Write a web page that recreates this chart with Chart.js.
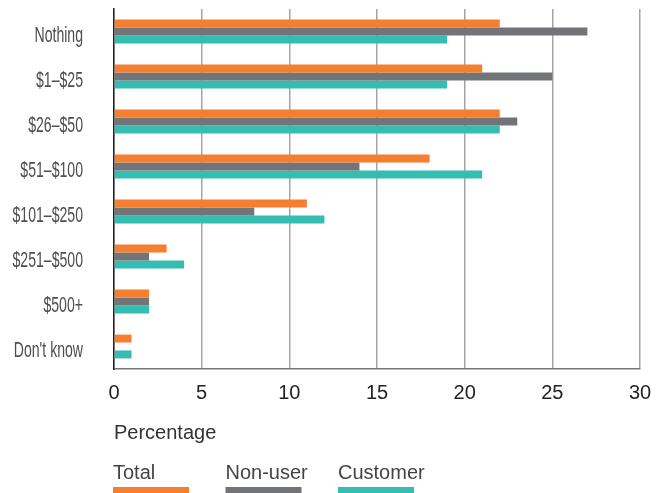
<!DOCTYPE html>
<html>
<head>
<meta charset="utf-8">
<script src="https://cdn.jsdelivr.net/npm/chart.js@4.4.0/dist/chart.umd.min.js"></script>
<style>
  html, body { margin: 0; padding: 0; background: #ffffff; }
  canvas { display: block; }
</style>
</head>
<body>
<canvas id="chart" width="657" height="493"></canvas>
<script>
// Amount spent, share of respondents (%)
const categories = ["Nothing", "$1–$25", "$26–$50", "$51–$100", "$101–$250", "$251–$500", "$500+", "Don't know"];
const totalValues    = [22, 21, 22, 18, 11, 3, 2, 1];
const nonUserValues  = [27, 25, 23, 14, 8, 2, 2, 0];
const customerValues = [19, 19, 22, 21, 12, 4, 2, 1];
const seriesNames  = ["Total", "Non-user", "Customer"];
const seriesColors = ["#F47F30", "#737478", "#35BDB2"];
const xTickValues  = [0, 5, 10, 15, 20, 25, 30];
const axisTitle    = "Percentage";

const seriesValues = [totalValues, nonUserValues, customerValues];

// Condensed category labels to the left of the plot
const categoryLabels = {
  id: 'categoryLabels',
  afterDraw(chart) {
    const yScale = chart.scales.y;
    const ctx = chart.ctx;
    const right = chart.chartArea.left - 31;
    ctx.save();
    ctx.font = "22px 'Liberation Sans', Arial, sans-serif";
    ctx.fillStyle = '#4e4e50';
    ctx.textAlign = 'right';
    ctx.textBaseline = 'alphabetic';
    chart.data.labels.forEach((label, i) => {
      const py = yScale.getPixelForTick(i);
      ctx.save();
      ctx.translate(right, py + 10);
      ctx.scale(0.64, 1);
      ctx.fillText(label, 0, 0);
      ctx.restore();
    });
    ctx.restore();
  }
};

// Legend below the axis title: name above a thick colour bar
const bottomLegend = {
  id: 'bottomLegend',
  afterDraw(chart) {
    const ctx = chart.ctx;
    const left = chart.chartArea.left - 1;
    ctx.save();
    ctx.font = "20px 'Liberation Sans', Arial, sans-serif";
    ctx.textAlign = 'left';
    ctx.textBaseline = 'alphabetic';
    chart.data.datasets.forEach((ds, i) => {
      const x = left + i * 112.5;
      ctx.fillStyle = '#444444';
      ctx.fillText(ds.label, x, 479);
      ctx.fillStyle = ds.backgroundColor;
      ctx.fillRect(x, 487, 76, 6);
    });
    ctx.restore();
  }
};

new Chart(document.getElementById('chart'), {
  type: 'bar',
  data: {
    labels: categories,
    datasets: seriesNames.map((name, i) => ({
      label: name,
      data: seriesValues[i],
      backgroundColor: seriesColors[i],
      borderWidth: 0,
      barPercentage: 1.0,
      categoryPercentage: 0.53
    }))
  },
  options: {
    indexAxis: 'y',
    responsive: false,
    animation: false,
    layout: { padding: { top: 9, right: 17, bottom: 0, left: 0 } },
    plugins: {
      legend: { display: false },
      tooltip: { enabled: false }
    },
    scales: {
      x: {
        min: 0,
        max: 30,
        afterBuildTicks(scale) {
          scale.ticks = xTickValues.map(v => ({ value: v }));
        },
        afterFit(scale) {
          scale.height = 124;
          scale.paddingLeft = 0;
          scale.paddingRight = 0;
        },
        grid: { color: '#a4a4a4', lineWidth: 1.5, drawTicks: false },
        border: { color: '#777777', width: 1.5 },
        ticks: {
          padding: 12,
          color: '#222222',
          font: { family: "'Liberation Sans', Arial, sans-serif", size: 20 }
        },
        title: {
          display: true,
          text: axisTitle,
          align: 'start',
          color: '#333333',
          padding: { top: 0, bottom: 48 },
          font: { family: "'Liberation Sans', Arial, sans-serif", size: 20 }
        }
      },
      y: {
        afterFit(scale) { scale.width = 114; },
        grid: { display: false, drawTicks: false },
        border: { color: '#222222', width: 1.5 },
        ticks: { display: false }
      }
    }
  },
  plugins: [categoryLabels, bottomLegend]
});
</script>
</body>
</html>
